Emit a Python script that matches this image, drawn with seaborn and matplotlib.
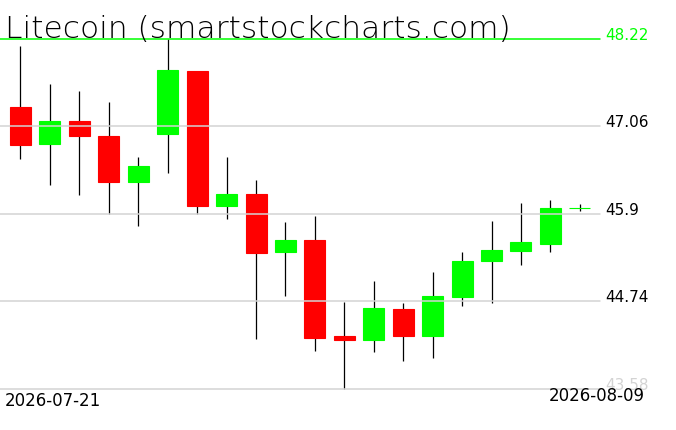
import matplotlib
matplotlib.use("Agg")
import matplotlib.pyplot as plt
import seaborn as sns
import pandas as pd

dates = ["2026-07-21", "2026-07-22", "2026-07-23", "2026-07-24", "2026-07-25",
         "2026-07-26", "2026-07-27", "2026-07-28", "2026-07-29", "2026-07-30",
         "2026-07-31", "2026-08-01", "2026-08-02", "2026-08-03", "2026-08-04",
         "2026-08-05", "2026-08-06", "2026-08-07", "2026-08-08", "2026-08-09"]
opens = [47.318, 46.831, 47.132, 46.937, 46.328, 46.957, 47.796, 46.009, 46.164, 45.399,
         45.554, 44.281, 44.236, 44.639, 44.276, 44.802, 45.280, 45.412, 45.505, 45.975]
highs = [48.127, 47.623, 47.530, 47.384, 46.655, 48.220, 47.800, 46.655, 46.350, 45.793,
         45.873, 44.732, 45.010, 44.719, 45.130, 45.395, 45.806, 46.045, 46.085, 46.036]
lows = [46.632, 46.288, 46.155, 45.906, 45.744, 46.439, 45.903, 45.837, 44.245, 44.816,
        44.086, 43.578, 44.073, 43.954, 43.993, 44.683, 44.723, 45.227, 45.400, 45.943]
closes = [46.818, 47.132, 46.930, 46.328, 46.536, 47.809, 46.009, 46.164, 45.386, 45.554,
          44.258, 44.236, 44.652, 44.276, 44.812, 45.276, 45.422, 45.528, 45.979, 45.975]
ytick_values = [43.58, 44.74, 45.9, 47.06, 48.22]
ytick_labels = ["43.58", "44.74", "45.9", "47.06", "48.22"]
title = "Litecoin (smartstockcharts.com)"

df = pd.DataFrame({"date": dates, "open": opens, "high": highs, "low": lows, "close": closes})
df["idx"] = range(len(df))
df["up"] = df["close"] >= df["open"]

sns.set_theme(style="white")
plt.rcParams["font.family"] = ["DejaVu Sans"]

W, H = 676, 431
fig = plt.figure(figsize=(W / 100, H / 100), dpi=100)
ax = fig.add_axes([0, 1 - 390 / H, 600 / W, 350 / H])
ax.set_xlim(-0.696, 19.684)
ax.set_ylim(43.58, 48.22)
ax.axis("off")

GREEN = "#00ff00"
RED = "#ff0000"
colors = [GREEN if u else RED for u in df["up"]]

# wicks
ax.vlines(df["idx"], df["low"], df["high"], color="black", linewidth=0.9, zorder=2, clip_on=False)
# bodies
bottoms = df[["open", "close"]].min(axis=1)
heights = (df["open"] - df["close"]).abs()
ax.bar(df["idx"], heights, bottom=bottoms, width=0.713, color=colors,
       edgecolor=colors, linewidth=0.8, zorder=3, clip_on=False)

# grid lines and right labels
label_colors = {"48.22": GREEN, "43.58": "#d3d3d3"}
for v, lab in zip(ytick_values, ytick_labels):
    lc = GREEN if lab == "48.22" else "#d3d3d3"
    ax.axhline(v, color=lc, linewidth=1.1, zorder=4, clip_on=False)
    ax.text(605 / 600, v, lab, transform=ax.get_yaxis_transform(), ha="left", va="baseline",
            fontsize=11, color=label_colors.get(lab, "black"), clip_on=False)

fig.text(5 / W, 1 - 38 / H, title, ha="left", va="baseline", fontsize=22.5,
         fontweight="light", color="black")
fig.text(5 / W, 1 - 406 / H, df["date"].iloc[0], ha="left", va="baseline", fontsize=12, color="black")
fig.text(645 / W, 1 - 401 / H, df["date"].iloc[-1], ha="right", va="baseline", fontsize=12, color="black")

fig.savefig("out.png", dpi=100, facecolor="white")
